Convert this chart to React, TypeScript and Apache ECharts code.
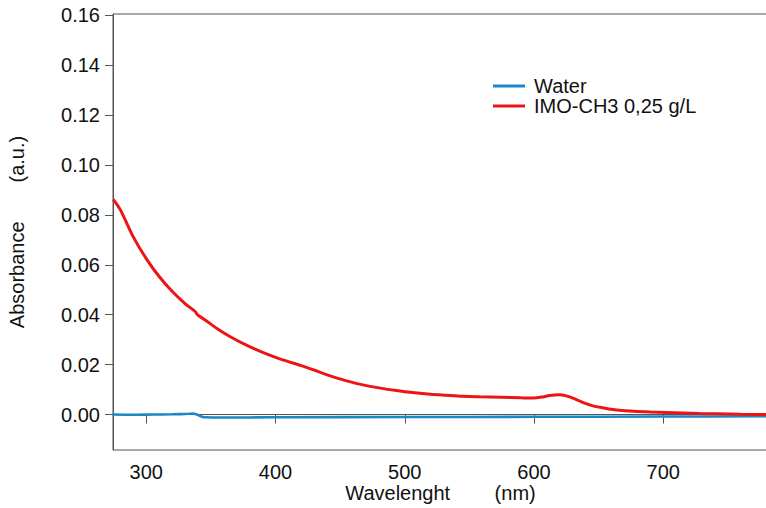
import React, { useEffect, useRef } from "react";
import * as echarts from "echarts";

const xTicks = [300, 400, 500, 600, 700];
const yTicks = [0, 0.02, 0.04, 0.06, 0.08, 0.1, 0.12, 0.14, 0.16];

const waterName = "Water";
const imoName = "IMO-CH3 0,25 g/L";

const waterData: [number, number][] = [
  [274, 0.0],
  [290, -0.0001],
  [305, 0.0],
  [320, 0.0001],
  [333, 0.0003],
  [336, 0.0004],
  [340, -0.0002],
  [345, -0.0011],
  [360, -0.0012],
  [400, -0.0011],
  [500, -0.001],
  [600, -0.0009],
  [700, -0.0008],
  [782, -0.0007],
];

const imoData: [number, number][] = [
  [274.5, 0.0862],
  [280, 0.082],
  [290, 0.0712],
  [300, 0.0625],
  [310, 0.0553],
  [320, 0.0494],
  [330, 0.0445],
  [338, 0.0412],
  [340, 0.0398],
  [345, 0.0381],
  [355, 0.0344],
  [365, 0.0312],
  [380, 0.0272],
  [393, 0.0243],
  [405, 0.022],
  [420, 0.0196],
  [430, 0.0178],
  [440, 0.0159],
  [447, 0.0147],
  [455, 0.0135],
  [465, 0.0122],
  [480, 0.0107],
  [495, 0.0095],
  [506, 0.0088],
  [520, 0.0081],
  [532, 0.0077],
  [545, 0.0073],
  [558, 0.0071],
  [575, 0.0069],
  [590, 0.0067],
  [600, 0.0066],
  [606, 0.007],
  [612, 0.0076],
  [619, 0.0079],
  [625, 0.0075],
  [632, 0.0062],
  [638, 0.0048],
  [645, 0.0036],
  [651, 0.0029],
  [658, 0.0022],
  [664, 0.0018],
  [677, 0.0013],
  [690, 0.001],
  [703, 0.0008],
  [715, 0.0006],
  [728, 0.0004],
  [741, 0.0003],
  [760, 0.0001],
  [782, 0.0],
];

const FONT = "'Liberation Sans', Arial, Helvetica, sans-serif";
const AXIS = "#555";
const TEXT = "#111";
const FS = 20;

export default function App() {
  const ref = useRef<HTMLDivElement>(null);
  useEffect(() => {
    if (!ref.current) return;
    const chart = echarts.init(ref.current, null, { renderer: "svg" });
    chart.setOption({
      animation: false,
      backgroundColor: "#fff",
      grid: {
        left: 113,
        top: 14,
        right: -2,
        bottom: 58,
        show: true,
        borderColor: AXIS,
        borderWidth: 1,
        containLabel: false,
        outerBoundsMode: "none",
      },
      legend: {
        orient: "vertical",
        left: 488,
        top: 71,
        icon: "rect",
        itemWidth: 32,
        itemHeight: 3,
        itemGap: 0,
        textStyle: { fontSize: FS, color: TEXT, fontFamily: FONT, padding: [0, 0, 0, 4] },
        data: [waterName, imoName],
      },
      xAxis: {
        type: "value",
        min: 274.3,
        max: 781,
        name: "Wavelenght\u00a0\u00a0\u00a0\u00a0\u00a0\u00a0\u00a0\u00a0(nm)",
        nameLocation: "middle",
        nameGap: 34,
        nameMoveOverlap: false,
        nameTextStyle: { fontSize: FS, lineHeight: 18, color: TEXT, fontFamily: FONT },
        axisLine: { show: true, lineStyle: { color: AXIS, width: 1 } },
        axisTick: { show: true, length: 9, lineStyle: { color: AXIS }, customValues: xTicks },
        axisLabel: {
          fontSize: FS,
          lineHeight: 16,
          color: TEXT,
          fontFamily: FONT,
          margin: 14,
          customValues: xTicks,
        },
        splitLine: { show: false },
      },
      yAxis: {
        type: "value",
        min: -0.0142,
        max: 0.1605,
        name: "Absorbance\u00a0\u00a0\u00a0\u00a0\u00a0\u00a0\u00a0(a.u.)",
        nameLocation: "middle",
        nameGap: 86,
        nameMoveOverlap: false,
        nameTextStyle: { fontSize: FS, color: TEXT, fontFamily: FONT },
        axisLine: { show: true, lineStyle: { color: AXIS, width: 1 } },
        axisTick: { show: true, length: 8, lineStyle: { color: AXIS }, customValues: yTicks },
        axisLabel: {
          fontSize: FS,
          color: TEXT,
          fontFamily: FONT,
          margin: 13,
          customValues: yTicks,
          formatter: (v: number) => v.toFixed(2),
        },
        splitLine: { show: false },
      },
      series: [
        {
          name: waterName,
          type: "line",
          data: waterData,
          symbol: "none",
          smooth: 0.3,
          lineStyle: { color: "#1b86c8", width: 2.6 },
          itemStyle: { color: "#1b86c8" },
          clip: true,
        },
        {
          name: imoName,
          type: "line",
          data: imoData,
          symbol: "none",
          smooth: 0.3,
          lineStyle: { color: "#ec1414", width: 3 },
          itemStyle: { color: "#ec1414" },
          clip: true,
        },
      ],
    });
    return () => chart.dispose();
  }, []);
  return (
    <div
      ref={ref}
      style={{ position: "absolute", left: 0, top: 0, width: 766, height: 508 }}
    />
  );
}
